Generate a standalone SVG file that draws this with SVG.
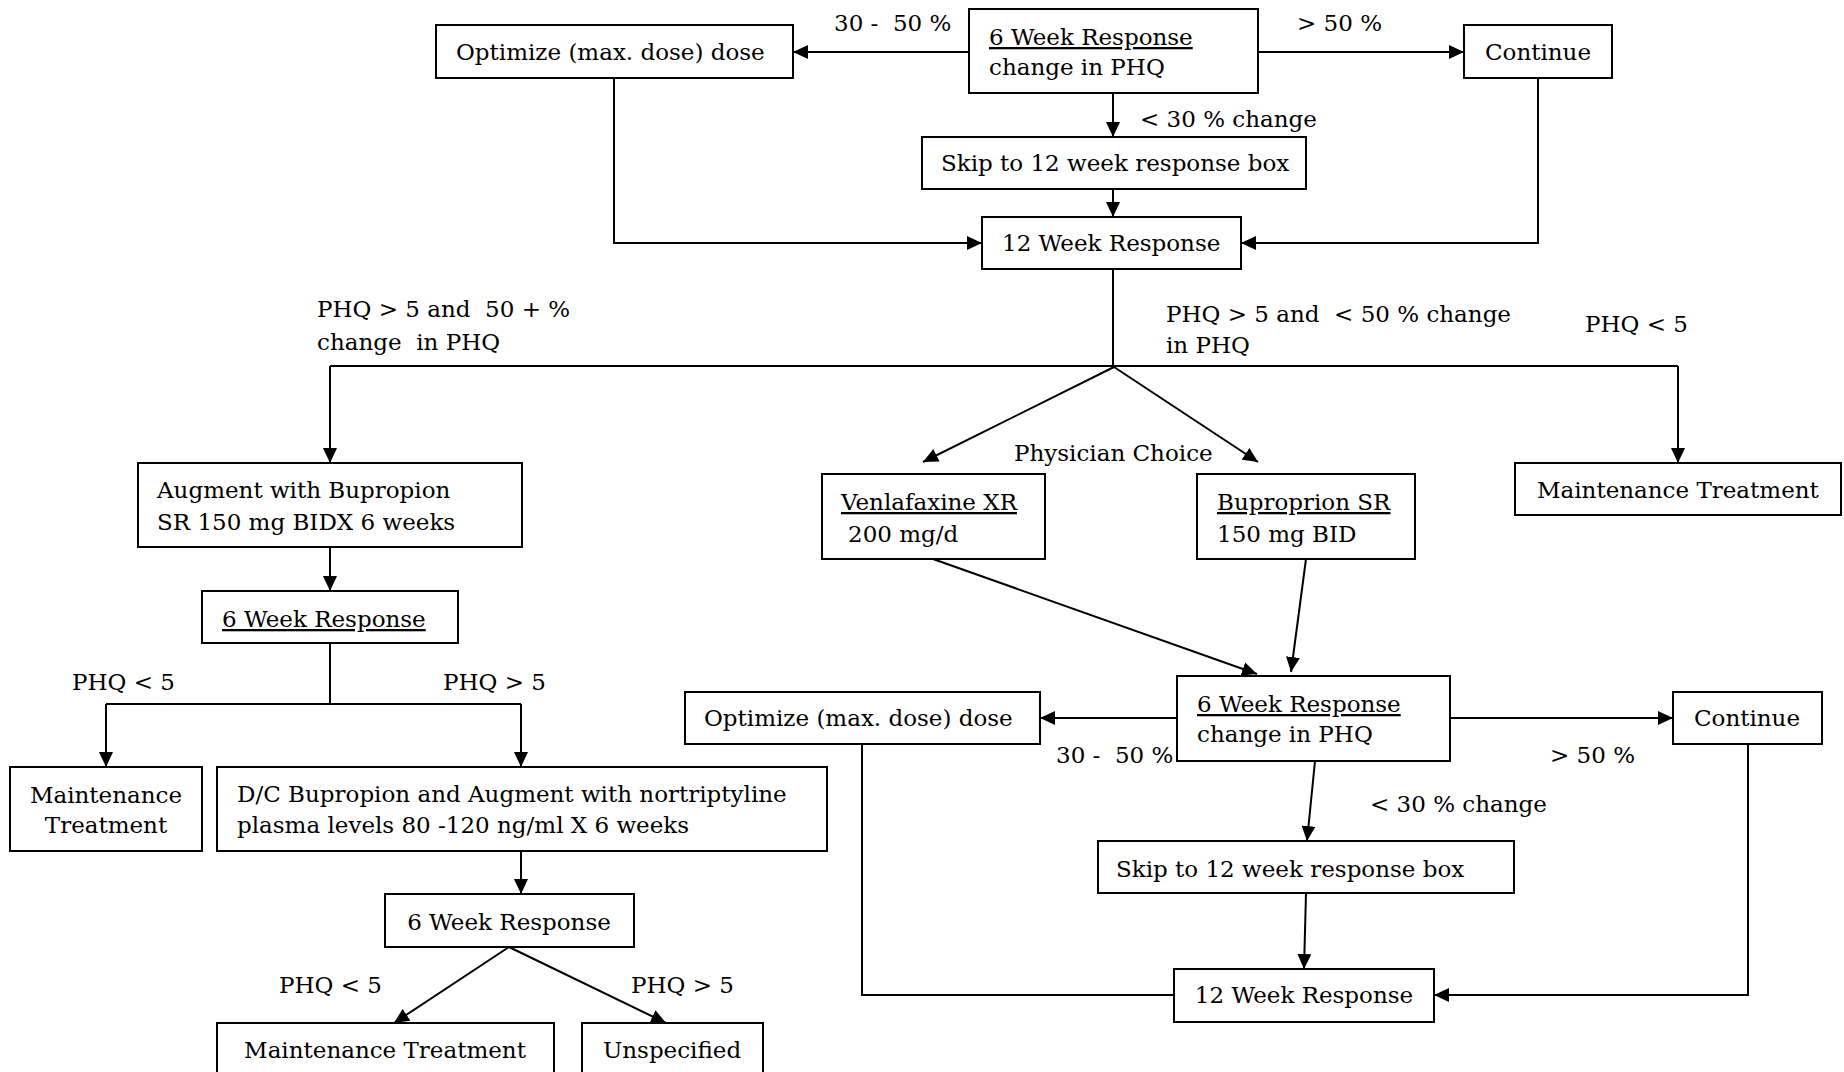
<svg xmlns="http://www.w3.org/2000/svg" width="1844" height="1072" viewBox="0 0 1844 1072">
<defs>
<style>
.box{fill:#fff;stroke:#000;stroke-width:2}
.t{font-family:"DejaVu Serif","Liberation Serif",serif;font-size:23px;fill:#000}
.p{white-space:pre}
.c{text-anchor:middle}
.u{text-decoration:underline}
.ln{fill:none;stroke:#000;stroke-width:2}
.ar{marker-end:url(#ah)}
</style>
<marker id="ah" markerUnits="userSpaceOnUse" markerWidth="16" markerHeight="14" refX="15" refY="7" orient="auto">
<path d="M0,0 L15,7 L0,14 z" fill="#000"/>
</marker>
</defs>
<rect width="1844" height="1072" fill="#fff"/>
<g id="connectors">
<line class="ln ar" x1="969" y1="52" x2="793" y2="52"/>
<line class="ln ar" x1="1258" y1="52" x2="1464" y2="52"/>
<line class="ln ar" x1="1113" y1="93" x2="1113" y2="137"/>
<line class="ln ar" x1="1113" y1="189" x2="1113" y2="217"/>
<polyline class="ln ar" points="614,78 614,243 982,243"/>
<polyline class="ln ar" points="1538,78 1538,243 1241,243"/>
<line class="ln" x1="1113" y1="269" x2="1113" y2="366"/>
<polyline class="ln ar" points="330,366 330,463"/>
<line class="ln" x1="330" y1="366" x2="1678" y2="366"/>
<polyline class="ln ar" points="1678,366 1678,463"/>
<line class="ln ar" x1="1114" y1="367" x2="923" y2="462"/>
<line class="ln ar" x1="1114" y1="367" x2="1258" y2="462"/>
<line class="ln ar" x1="330" y1="547" x2="330" y2="591"/>
<line class="ln" x1="330" y1="643" x2="330" y2="704"/>
<line class="ln" x1="106" y1="704" x2="521" y2="704"/>
<line class="ln ar" x1="106" y1="704" x2="106" y2="767"/>
<line class="ln ar" x1="521" y1="704" x2="521" y2="767"/>
<line class="ln ar" x1="521" y1="851" x2="521" y2="894"/>
<line class="ln ar" x1="509" y1="947" x2="394" y2="1023"/>
<line class="ln ar" x1="509" y1="947" x2="666" y2="1023"/>
<line class="ln ar" x1="933" y1="559" x2="1257" y2="674"/>
<line class="ln ar" x1="1306" y1="559" x2="1291" y2="672"/>
<line class="ln ar" x1="1177" y1="718" x2="1040" y2="718"/>
<line class="ln ar" x1="1450" y1="718" x2="1673" y2="718"/>
<line class="ln ar" x1="1315" y1="761" x2="1307" y2="841"/>
<line class="ln ar" x1="1306" y1="893" x2="1304" y2="969"/>
<polyline class="ln" points="862,744 862,995 1174,995"/>
<polyline class="ln ar" points="1748,744 1748,995 1434,995"/>
</g>
<g id="labels">
<text class="t p" x="834" y="31">30 -  50 %</text>
<text class="t p" x="1297" y="31">&gt; 50 %</text>
<text class="t p" x="1140" y="127">&lt; 30 % change</text>
<text class="t p" x="317" y="317">PHQ &gt; 5 and  50 + %</text>
<text class="t p" x="317" y="350">change  in PHQ</text>
<text class="t p" x="1166" y="322">PHQ &gt; 5 and  &lt; 50 % change</text>
<text class="t p" x="1166" y="353">in PHQ</text>
<text class="t p" x="1585" y="332">PHQ &lt; 5</text>
<text class="t p" x="1014" y="461">Physician Choice</text>
<text class="t p" x="72" y="690">PHQ &lt; 5</text>
<text class="t p" x="443" y="690">PHQ &gt; 5</text>
<text class="t p" x="279" y="993">PHQ &lt; 5</text>
<text class="t p" x="631" y="993">PHQ &gt; 5</text>
<text class="t p" x="1056" y="763">30 -  50 %</text>
<text class="t p" x="1550" y="763">&gt; 50 %</text>
<text class="t p" x="1370" y="812">&lt; 30 % change</text>
</g>
<g id="optimize1"><rect class="box" x="436" y="25" width="357" height="53"/><text class="t" x="456" y="60">Optimize (max. dose) dose</text></g>
<g id="week6a"><rect class="box" x="969" y="9" width="289" height="84"/><text class="t u" x="989" y="45">6 Week Response</text><text class="t" x="989" y="75">change in PHQ</text></g>
<g id="continue1"><rect class="box" x="1464" y="25" width="148" height="53"/><text class="t c" x="1538" y="60">Continue</text></g>
<g id="skip1"><rect class="box" x="922" y="137" width="384" height="52"/><text class="t" x="941" y="171">Skip to 12 week response box</text></g>
<g id="week12a"><rect class="box" x="982" y="217" width="259" height="52"/><text class="t" x="1002" y="251">12 Week Response</text></g>
<g id="augment"><rect class="box" x="138" y="463" width="384" height="84"/><text class="t" x="157" y="498">Augment with Bupropion</text><text class="t" x="157" y="530">SR 150 mg BIDX 6 weeks</text></g>
<g id="venlafaxine"><rect class="box" x="822" y="474" width="223" height="85"/><text class="t u" x="841" y="510">Venlafaxine XR</text><text class="t" x="848" y="542">200 mg/d</text></g>
<g id="buproprion"><rect class="box" x="1197" y="474" width="218" height="85"/><text class="t u" x="1217" y="510">Buproprion SR</text><text class="t" x="1217" y="542">150 mg BID</text></g>
<g id="maint1"><rect class="box" x="1515" y="463" width="326" height="52"/><text class="t" x="1537" y="498">Maintenance Treatment</text></g>
<g id="week6b"><rect class="box" x="202" y="591" width="256" height="52"/><text class="t u" x="222" y="627">6 Week Response</text></g>
<g id="maint2"><rect class="box" x="10" y="767" width="192" height="84"/><text class="t c" x="106" y="803">Maintenance</text><text class="t c" x="106" y="833">Treatment</text></g>
<g id="dc"><rect class="box" x="217" y="767" width="610" height="84"/><text class="t" x="237" y="802">D/C Bupropion and Augment with nortriptyline</text><text class="t" x="237" y="833">plasma levels 80 -120 ng/ml X 6 weeks</text></g>
<g id="week6c"><rect class="box" x="385" y="894" width="249" height="53"/><text class="t c" x="509" y="930">6 Week Response</text></g>
<g id="maint3"><rect class="box" x="217" y="1023" width="337" height="60"/><text class="t c" x="385" y="1058">Maintenance Treatment</text></g>
<g id="unspecified"><rect class="box" x="582" y="1023" width="181" height="60"/><text class="t c" x="672" y="1058">Unspecified</text></g>
<g id="optimize2"><rect class="box" x="685" y="692" width="355" height="52"/><text class="t" x="704" y="726">Optimize (max. dose) dose</text></g>
<g id="week6d"><rect class="box" x="1177" y="676" width="273" height="85"/><text class="t u" x="1197" y="712">6 Week Response</text><text class="t" x="1197" y="742">change in PHQ</text></g>
<g id="continue2"><rect class="box" x="1673" y="692" width="149" height="52"/><text class="t c" x="1747" y="726">Continue</text></g>
<g id="skip2"><rect class="box" x="1098" y="841" width="416" height="52"/><text class="t" x="1116" y="877">Skip to 12 week response box</text></g>
<g id="week12b"><rect class="box" x="1174" y="969" width="260" height="53"/><text class="t c" x="1304" y="1003">12 Week Response</text></g>
</svg>
